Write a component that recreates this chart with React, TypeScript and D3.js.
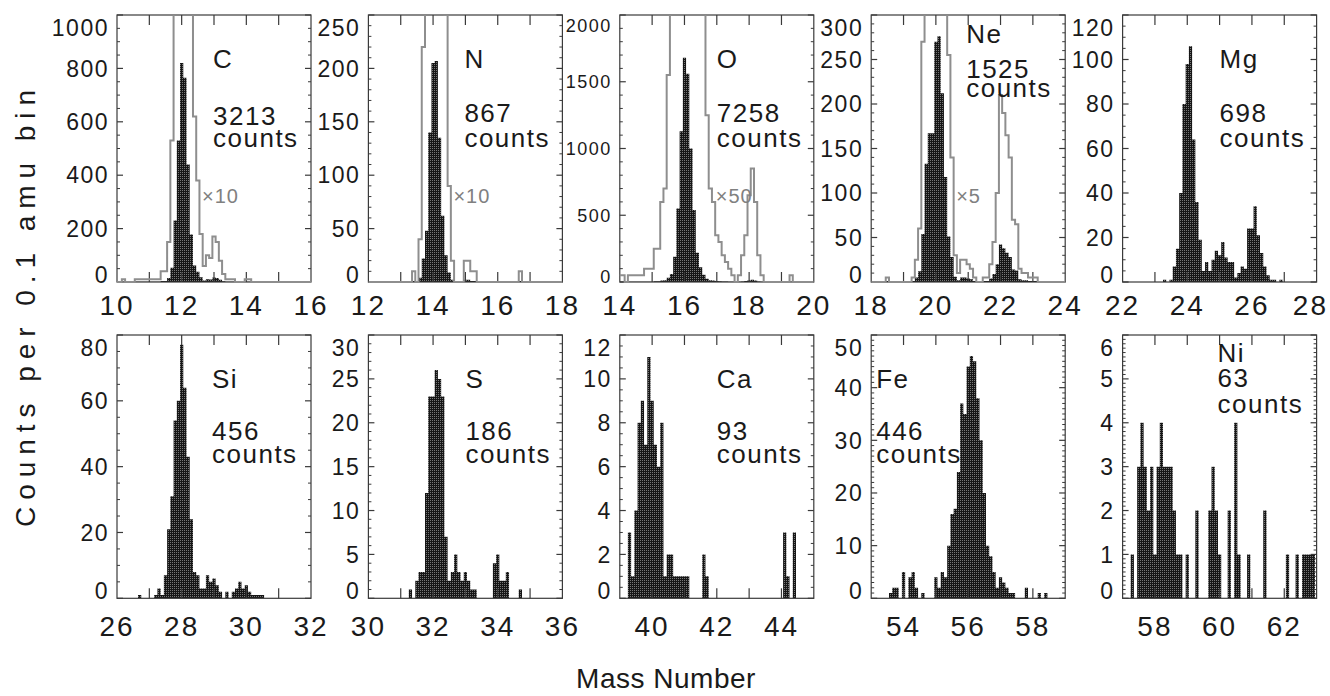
import React from 'react'
import * as d3 from 'd3'

// ---- data (counts per 0.1 amu bin) ----
const elements = ['C', 'N', 'O', 'Ne', 'Mg', 'Si', 'S', 'Ca', 'Fe', 'Ni']
const totals = [3213, 867, 7258, 1525, 698, 456, 186, 93, 446, 63]
const massRanges: [number, number][] = [
  [10, 16], [12, 18], [14, 20], [18, 24], [22, 28],
  [26, 32], [30, 36], [39, 45], [53, 59], [57, 63],
]
const countMax = [1000, 250, 2000, 300, 120, 80, 30, 12, 50, 6]
const countStep = [200, 50, 500, 50, 20, 20, 5, 2, 10, 1]
const minorDiv = [4, 5, 5, 5, 4, 4, 5, 4, 10, 10]
// multiplier of the grey overlay (0 = no overlay)
const scaleFactors = [10, 10, 50, 5, 0, 0, 0, 0, 0, 0]
// mass of the first bin centre in each count list
const firstBin = [10.2, 13.4, 14.0, 18.5, 23.3, 26.7, 31.3, 39.3, 53.6, 57.3]

const countsC = [1, 0, 0, 0, 1, 1, 1, 1, 1, 1, 1, 1, 4, 4, 15, 53, 230, 530, 820, 765, 440, 178, 62, 38, 18, 6, 10, 9, 17, 15, 8, 3, 1, 1, 1, 0, 0, 0, 1, 1]
const countsN = [1, 0, 4, 22, 48, 140, 205, 207, 135, 62, 25, 9, 2, 0, 0, 0, 2, 2, 1, 1, 0, 0, 0, 0, 0, 0, 0, 0, 0, 0, 0, 0, 0, 1]
const countsO = [1, 1, 0, 1, 1, 1, 1, 1, 2, 2, 2, 5, 5, 12, 14, 31, 60, 190, 550, 1130, 1680, 1560, 1000, 540, 220, 110, 55, 25, 14, 12, 7, 6, 4, 3, 2, 1, 0, 1, 4, 7, 13, 17, 12, 4, 1, 0, 0, 0, 0, 0, 0, 0, 0, 1]
const countsNe = [1, 0, 0, 0, 0, 0, 0, 0, 1, 5, 12, 54, 133, 167, 167, 270, 276, 212, 118, 51, 28, 6, 2, 5, 5, 4, 3, 1, 0, 0, 1, 1, 4, 9, 20, 42, 38, 33, 28, 14, 13, 3, 2, 2, 1, 1, 1]
const countsMg = [1, 0, 1, 7, 15, 40, 80, 98, 106, 64, 36, 19, 5, 9, 5, 10, 14, 12, 18, 11, 9, 9, 2, 4, 7, 6, 24, 24, 34, 21, 13, 7, 3, 1, 1, 0, 1]
const countsSi = [1, 0, 0, 0, 0, 1, 3, 1, 7, 21, 31, 54, 60, 77, 64, 43, 24, 8, 7, 3, 3, 7, 5, 6, 4, 2, 0, 2, 0, 2, 3, 5, 3, 4, 2, 1, 1, 1, 1]
const countsS = [1, 0, 2, 3, 3, 12, 23, 23, 26, 25, 23, 7, 2, 3, 5, 3, 2, 3, 2, 1, 1, 0, 0, 0, 0, 0, 4, 5, 2, 2, 3, 0, 0, 0, 1]
const countsCa = [3, 1, 4, 8, 9, 7, 11, 9, 7, 6, 8, 1, 2, 2, 1, 1, 1, 1, 1, 0, 0, 0, 0, 2, 1, 0, 0, 0, 0, 0, 0, 0, 0, 0, 0, 0, 0, 0, 0, 0, 0, 0, 0, 0, 0, 0, 0, 0, 3, 1, 0, 3]
const countsFe = [1, 2, 2, 0, 5, 0, 4, 5, 2, 0, 1, 0, 0, 0, 4, 2, 5, 4, 10, 16, 17, 24, 37, 35, 44, 46, 45, 38, 30, 20, 10, 8, 5, 2, 4, 3, 2, 1, 1, 0, 0, 0, 2, 0, 0, 0, 1, 0, 1]
const countsNi = [1, 0, 3, 4, 3, 2, 3, 1, 3, 4, 3, 3, 3, 2, 1, 1, 0, 1, 0, 0, 2, 0, 0, 0, 2, 3, 2, 1, 0, 0, 2, 0, 4, 1, 0, 0, 1, 0, 0, 0, 0, 2, 0, 0, 0, 0, 0, 0, 1, 0, 0, 1, 0, 1, 1, 1, 1]

const binCounts = [countsC, countsN, countsO, countsNe, countsMg, countsSi, countsS, countsCa, countsFe, countsNi]

// ---- layout ----
const W = 1330
const H = 696
const PANEL_W = 194
const colLeft = (c: number) => 117 + c * 251.4
const rowTop = [15, 335]
const rowBottom = [282, 598.3]
const xLabelGap = [33, 38]
// baselines of element / count / "counts" lines, relative to panel top
const labelRows = [
  [53, 110, 132], [53, 107, 132], [53, 107, 132], [28, 63, 82], [53, 107, 132],
  [53, 105, 128], [53, 105, 128], [53, 105, 128], [53, 105, 128], [27, 52, 78],
]
const labelDx = [96, 96, 97, 95, 97, 95, 97, 97, 5, 95]
const yLabelSize = [23, 23, 18, 23, 23, 23, 23, 23, 23, 23]

const FONT = '"Liberation Sans", Arial, "DejaVu Sans", sans-serif'
const INK = '#1a1a1a'
const AXIS = '#3a3a3a'
const GREY = '#8e8e8e'
const X_FS = 28

type Pt = [number, number]

function Panel({ idx }: { idx: number }) {
  const col = idx % 5
  const row = Math.floor(idx / 5)
  const left = colLeft(col)
  const right = left + PANEL_W
  const top = rowTop[row]
  const bottom = rowBottom[row]
  const [m0, m1] = massRanges[idx]

  const x = d3.scaleLinear().domain([m0, m1]).range([left, right])
  const y = d3.scaleLinear().domain([0, countMax[idx]]).range([bottom, top])

  const counts = binCounts[idx]
  const start = firstBin[idx]
  const pts: Pt[] = [[m0, 0]]
  counts.forEach((c, i) => pts.push([(start * 10 + i - 0.5) / 10, c]))
  pts.push([(start * 10 + counts.length - 0.5) / 10, 0])
  pts.push([m1, 0])

  const area = d3.area<Pt>()
    .x(d => x(d[0]))
    .y0(bottom)
    .y1(d => y(d[1]))
    .curve(d3.curveStepAfter)

  const f = scaleFactors[idx]
  const line = d3.line<Pt>()
    .x(d => x(d[0]))
    .y(d => y(d[1] * f))
    .curve(d3.curveStepAfter)

  const step = countStep[idx]
  const max = countMax[idx]
  const majors = d3.range(0, max + step / 2, step)
  const minorStep = step / minorDiv[idx]
  const minors = d3.range(0, max + minorStep / 2, minorStep)
    .filter(v => Math.abs(v / step - Math.round(v / step)) > 1e-6)
  const xTicks = d3.range(Math.floor(m0) + 1, m1)
  const xLabels = d3.range(Math.ceil(m0), m1 + 0.001).filter(v => v % 2 === 0)

  const clipId = `clip-${idx}`
  const fs = yLabelSize[idx]
  const rows = labelRows[idx]
  const lx = left + labelDx[idx]

  return (
    <g>
      <defs>
        <clipPath id={clipId}>
          <rect x={left} y={top} width={PANEL_W} height={bottom - top + 2} />
        </clipPath>
      </defs>

      <g clipPath={`url(#${clipId})`}>
        <path d={area(pts) || ''} fill="url(#dots)" stroke="none" />
      </g>

      <rect x={left} y={top} width={PANEL_W} height={bottom - top} fill="none" stroke={AXIS} strokeWidth={1.2} />

      {xTicks.map(v => (
        <g key={`xt${v}`} stroke={AXIS} strokeWidth={1.2}>
          <line x1={x(v)} x2={x(v)} y1={top} y2={top + 10} />
          <line x1={x(v)} x2={x(v)} y1={bottom} y2={bottom - 10} />
        </g>
      ))}
      {majors.map(v => (
        <g key={`ym${v}`} stroke={AXIS} strokeWidth={1.2}>
          <line x1={left} x2={left + 6} y1={y(v)} y2={y(v)} />
          <line x1={right} x2={right - 6} y1={y(v)} y2={y(v)} />
        </g>
      ))}
      {minors.map(v => (
        <g key={`yn${v}`} stroke={AXIS} strokeWidth={1}>
          <line x1={left} x2={left + 3} y1={y(v)} y2={y(v)} />
          <line x1={right} x2={right - 3} y1={y(v)} y2={y(v)} />
        </g>
      ))}

      {f > 0 && (
        <g clipPath={`url(#${clipId})`}>
          <path d={line(pts) || ''} fill="none" stroke={GREY} strokeWidth={2} />
        </g>
      )}

      {majors.map(v => {
        let base = y(v) + fs * 0.36
        if (v === 0) base = bottom + 1
        if (Math.abs(v - max) < 1e-6) base = top + 4 + fs * 0.72
        return (
          <text key={`yl${v}`} x={left - 8} y={base} textAnchor="end" fontSize={fs} fontFamily={FONT} fill={INK} letterSpacing={1.5}>
            {v}
          </text>
        )
      })}
      {xLabels.map(v => {
        const half = String(v).length * 0.3 * X_FS
        const overflow = x(v) + half > W - 2
        return (
          <text
            key={`xl${v}`}
            x={overflow ? W - 2 : x(v)}
            y={bottom + xLabelGap[row]}
            textAnchor={overflow ? 'end' : 'middle'}
            fontSize={X_FS}
            fontFamily={FONT}
            fill={INK}
            letterSpacing={2}
          >
            {v}
          </text>
        )
      })}

      <g fontSize={26} fontFamily={FONT} fill={INK} letterSpacing={1.5}>
        <text x={lx} y={top + rows[0]}>{elements[idx]}</text>
        <text x={lx} y={top + rows[1]}>{totals[idx]}</text>
        <text x={lx} y={top + rows[2]}>counts</text>
      </g>
      {f > 0 && (
        <text x={left + (idx === 2 ? 96 : 85)} y={top + 188} fontSize={20} fontFamily={FONT} fill="#808080" letterSpacing={1}>
          {`\u00d7${f}`}
        </text>
      )}
    </g>
  )
}

export default function App() {
  return (
    <svg
      width={W}
      height={H}
      viewBox={`0 0 ${W} ${H}`}
      style={{ position: 'absolute', left: 0, top: 0, background: '#fff' }}
    >
      <defs>
        <pattern id="dots" width={2} height={2} patternUnits="userSpaceOnUse">
          <rect width={2} height={2} fill="#161616" />
          <rect width={1} height={1} fill="#777" />
        </pattern>
      </defs>
      <rect width={W} height={H} fill="#fff" />
      {elements.map((_, i) => <Panel key={elements[i]} idx={i} />)}

      <text
        transform="translate(35,308.5) rotate(-90)"
        textAnchor="middle"
        fontSize={28}
        fontFamily={FONT}
        fill={INK}
        textLength={437}
        lengthAdjust="spacing"
      >
        Counts per 0.1 amu bin
      </text>
      <text x={666} y={688} textAnchor="middle" fontSize={28} fontFamily={FONT} fill={INK} letterSpacing={0.5}>
        Mass Number
      </text>
    </svg>
  )
}
